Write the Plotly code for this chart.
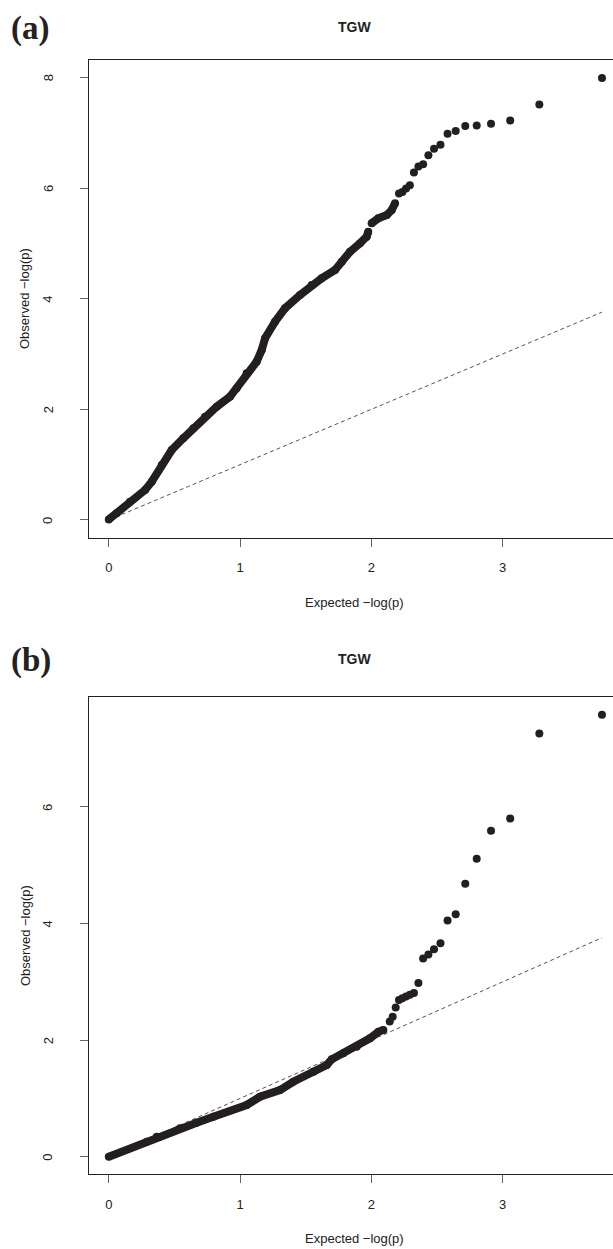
import plotly.graph_objects as go

# ---- Panel (a): QQ plot of TGW association p-values ----
# dense body of the curve (expected, observed)
a_bulk_x = [0.00, 0.060, 0.161, 0.276, 0.327, 0.403, 0.479, 0.567, 0.644, 0.733, 0.822,
            0.923, 0.974, 1.050, 1.126, 1.165, 1.190, 1.266, 1.342, 1.456, 1.545, 1.621,
            1.723, 1.774, 1.837, 1.913, 1.964, 1.976, None, 2.002, 2.053, 2.117, 2.155, 2.180]
a_bulk_y = [0.01, 0.121, 0.331, 0.542, 0.692, 0.994, 1.265, 1.477, 1.657, 1.867, 2.048,
            2.228, 2.380, 2.651, 2.861, 3.073, 3.284, 3.584, 3.826, 4.067, 4.247, 4.368,
            4.518, 4.668, 4.849, 5.001, 5.120, 5.210, None, 5.362, 5.453, 5.512, 5.603, 5.724]
# most significant SNPs, drawn individually
a_tail_x = [3.756, 3.279, 3.057, 2.911, 2.802, 2.715, 2.642, 2.580, 2.526, 2.477,
            2.434, 2.394, 2.358, 2.324, 2.293, 2.264, 2.236, 2.210]
a_tail_y = [7.99, 7.51, 7.22, 7.16, 7.13, 7.12, 7.03, 6.98, 6.78, 6.71,
            6.59, 6.43, 6.39, 6.28, 6.05, 5.99, 5.93, 5.90]

# ---- Panel (b): QQ plot after correction ----
b_bulk_x = [0.00, 0.289, 0.365, 0.542, 0.669, 0.796, 1.050, 1.152, 1.304, 1.405, 1.558,
            1.660, 1.698, 1.786, 1.888, 1.989, 2.053, 2.091]
b_bulk_y = [0.00, 0.257, 0.343, 0.487, 0.583, 0.686, 0.887, 1.029, 1.144, 1.286, 1.458,
            1.573, 1.670, 1.774, 1.887, 2.031, 2.144, 2.173]
b_tail_x = [3.756, 3.279, 3.057, 2.911, 2.802, 2.715, 2.642, 2.580, 2.526, 2.477,
            2.434, 2.394, 2.358, 2.324, 2.293, 2.264, 2.236, 2.210, 2.185, 2.162, 2.140]
b_tail_y = [7.58, 7.26, 5.80, 5.59, 5.11, 4.68, 4.16, 4.05, 3.66, 3.56,
            3.47, 3.40, 2.98, 2.81, 2.78, 2.75, 2.72, 2.69, 2.56, 2.40, 2.32]

# expected = observed reference line
diag = [0.0, 3.756]

x_ticks = [0, 1, 2, 3]
a_y_ticks = [0, 2, 4, 6, 8]
b_y_ticks = [0, 2, 4, 6]

W, H = 613, 1249
PT = "#231f20"
INK = "#222222"
FONT = "Liberation Sans, Arial, Helvetica, sans-serif"
DOT = 8


def px(x):
    return x / W


def py(y):
    return 1 - y / H


fig = go.Figure()


def add_panel(xa, ya, bx, by, tx, ty):
    fig.add_trace(go.Scatter(x=diag, y=diag, xaxis=xa, yaxis=ya, mode="lines",
                             line=dict(color="#555555", width=1, dash="4px,3px"),
                             hoverinfo="skip"))
    fig.add_trace(go.Scatter(x=bx, y=by, xaxis=xa, yaxis=ya, mode="lines+markers",
                             line=dict(color=PT, width=DOT),
                             marker=dict(color=PT, size=DOT), connectgaps=False))
    fig.add_trace(go.Scatter(x=tx, y=ty, xaxis=xa, yaxis=ya, mode="markers",
                             marker=dict(color=PT, size=DOT)))


add_panel("x", "y", a_bulk_x, a_bulk_y, a_tail_x, a_tail_y)
add_panel("x2", "y2", b_bulk_x, b_bulk_y, b_tail_x, b_tail_y)

x_left = 89.1 / W
xax = dict(range=[-0.150, 3.840], tickvals=x_ticks, ticktext=[str(v) for v in x_ticks],
           showline=True, linecolor=INK, linewidth=1, mirror=True,
           ticks="outside", ticklen=8, tickcolor="#666666", tickwidth=1,
           showgrid=False, zeroline=False, domain=[x_left, 1],
           tickfont=dict(family=FONT, size=13, color=INK),
           ticklabelstandoff=10)
# y tick labels are placed as rotated annotations (R style, reading upward)
yax = dict(showline=True, linecolor=INK, linewidth=1, mirror=False,
           ticks="outside", ticklen=8, tickcolor="#666666", tickwidth=1,
           showgrid=False, zeroline=False, showticklabels=False)

fig.update_layout(
    width=W, height=H, margin=dict(l=0, r=0, t=0, b=0),
    paper_bgcolor="white", plot_bgcolor="white", showlegend=False,
    xaxis=dict(xax, anchor="y"),
    yaxis=dict(yax, anchor="x", range=[-0.32, 8.31], tickvals=a_y_ticks,
               domain=[py(537.7), py(60.2)]),
    xaxis2=dict(xax, anchor="y2"),
    yaxis2=dict(yax, anchor="x2", range=[-0.303, 7.88], tickvals=b_y_ticks,
                domain=[py(1174.4), py(697.3)]),
)

ann = []
for lab, ty, ylab_y, xlab_y in [("(a)", 29, 299, 602), ("(b)", 661, 936, 1238)]:
    ann.append(dict(text="<b>" + lab + "</b>", x=px(9), y=py(ty), xanchor="left",
                    yanchor="middle",
                    font=dict(family="Liberation Serif, serif", size=33, color=INK)))
    ann.append(dict(text="<b>TGW</b>", x=px(354), y=py(ty - 2), xanchor="center",
                    yanchor="middle",
                    font=dict(family=FONT, size=14, color=INK)))
    ann.append(dict(text="Observed \u2212log(p)", x=px(25), y=py(ylab_y), textangle=-90,
                    xanchor="center", yanchor="middle",
                    font=dict(family=FONT, size=13, color=INK)))
    ann.append(dict(text="Expected \u2212log(p)", x=px(354), y=py(xlab_y),
                    xanchor="center", yanchor="middle",
                    font=dict(family=FONT, size=13, color=INK)))
for a in ann:
    a.update(xref="paper", yref="paper", showarrow=False)

for yref, ticks in [("y", a_y_ticks), ("y2", b_y_ticks)]:
    for v in ticks:
        ann.append(dict(text=str(v), x=px(48), xref="paper", y=v, yref=yref,
                        textangle=-90, xanchor="center", yanchor="middle",
                        showarrow=False, font=dict(family=FONT, size=13, color=INK)))

fig.update_layout(annotations=ann)

fig.write_html("out.html")
